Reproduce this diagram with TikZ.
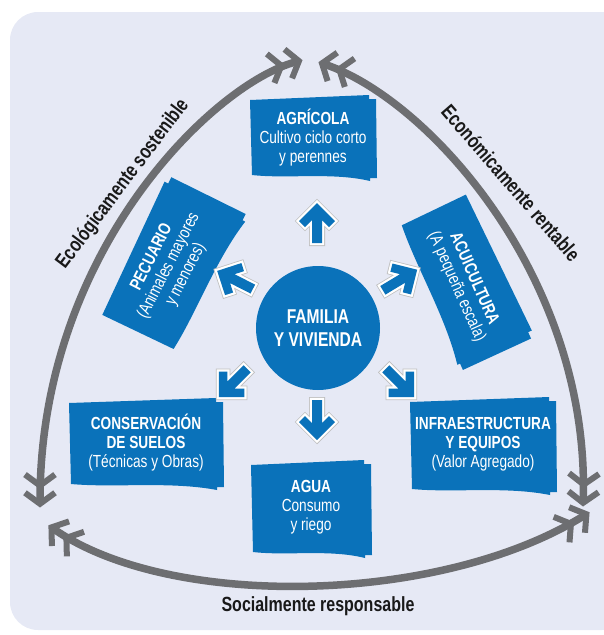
\documentclass[tikz,border=0pt]{standalone}
\usepackage{fontspec}
\setmainfont{Liberation Sans}[FakeStretch=0.78]
\usetikzlibrary{arrows.meta,positioning}

\definecolor{azul}{HTML}{0A72BA}
\definecolor{gris}{HTML}{6D6E71}
\definecolor{fondo}{HTML}{E6E9F5}

\begin{document}
\begin{tikzpicture}[x=1pt,y=-1pt,
     align=center,
     >={Straight Barb[length=11pt,width=30pt,line width=6pt,sep=0.5pt]},
     texto/.style={text=white,font=\fontsize{17.5}{19}\selectfont},
     centro/.style={circle,fill=azul,text=white,minimum size=124pt,inner sep=0pt,
        font=\bfseries\fontsize{20}{23}\selectfont},
     eje/.style={draw=gris,line width=7.5pt,<<->>},
     etiqueta/.style={text=black!90,font=\bfseries\fontsize{20.5}{22}\selectfont},
     flechita/.style={fill=azul,preaction={draw=black!25,line width=6pt},
        preaction={draw=white,line width=4.4pt}},
     pics/hoja/.style args={#1/#2}{code={
        \fill[azul] (-#1,-#2+3) -- (#1-7,-#2-2) -- (#1-7,-#2+2) -- (#1,-#2+2)
          -- (#1+1,#2+1) -- (#1-6,#2+1) -- (#1-6,#2+4)
          .. controls (#1*0.3,#2-5) and (-#1*0.4,#2+2) .. (-#1+2,#2-2) -- cycle;}},
     pics/flecha/.style={code={
        \path[flechita] (20,0) -- (2,-18) -- (-4,-12) -- (3,-5) -- (-20,-5)
          -- (-20,5) -- (3,5) -- (-4,12) -- (2,18) -- cycle;}}]

  \useasboundingbox (0,0) rectangle (604,635);
  \clip (0,0) rectangle (604,635);
  \fill[fondo,rounded corners=28pt] (10,12) rectangle (630,630);

  % ejes de la sostenibilidad
  \coordinate (ecoA) at (40,508);
  \coordinate (ecoB) at (303,60);
  \coordinate (renA) at (318,62);
  \coordinate (renB) at (583,507);
  \coordinate (socA) at (48,525);
  \coordinate (socB) at (590,512);

  \draw[eje] (ecoA) .. controls (40,250) and (215,83) .. (ecoB);
  \draw[eje] (renA) .. controls (430,100) and (590,280) .. (renB);
  \draw[eje] (socA) .. controls (170,610) and (440,605) .. (socB);

  \node[etiqueta,rotate=53] (ecologico) at (123,184) {Ecológicamente sostenible};
  \node[etiqueta,rotate=-49] (economico) at (511,183) {Económicamente rentable};
  \node[etiqueta] (social) at (318,606) {Socialmente responsable};

  % hojas
  \pic at (313,137) {hoja=63/40};
  \pic[rotate=63] at (172,264) {hoja=77/42};
  \pic[rotate=-66] at (466,281) {hoja=79/38};
  \pic at (146,443) {hoja=77/43};
  \pic at (483,445) {hoja=73/46};
  \pic at (311,508) {hoja=60/46};

  \node[texto] (agricola) at (313,138) {\textbf{AGRÍCOLA}\\Cultivo ciclo corto\\y perennes};
  \node[texto,rotate=63] (pecuario) at (169,266) {\textbf{PECUARIO}\\(Animales mayores\\y menores)};
  \node[texto,rotate=-66] (acuicultura) at (465,283) {\textbf{ACUICULTURA}\\(A pequeña escala)};
  \node[texto] (conservacion) at (146,443) {\textbf{CONSERVACIÓN}\\\textbf{DE SUELOS}\\(Técnicas y Obras)};
  \node[texto] (infraestructura) at (483,444) {\textbf{INFRAESTRUCTURA}\\\textbf{Y EQUIPOS}\\(Valor Agregado)};
  \node[texto] (agua) at (311,507) {\textbf{AGUA}\\Consumo\\y riego};

  \node[centro] (familia) at (318,328) {FAMILIA\\Y VIVIENDA};

  % flechas
  \pic[rotate=90] at (317,223) {flecha};
  \pic[rotate=153] at (235,280) {flecha};
  \pic[rotate=31] at (400,280) {flecha};
  \pic[rotate=225] at (233,383) {flecha};
  \pic[rotate=-45] at (400,383) {flecha};
  \pic[rotate=-90] at (317,420) {flecha};

\end{tikzpicture}
\end{document}
